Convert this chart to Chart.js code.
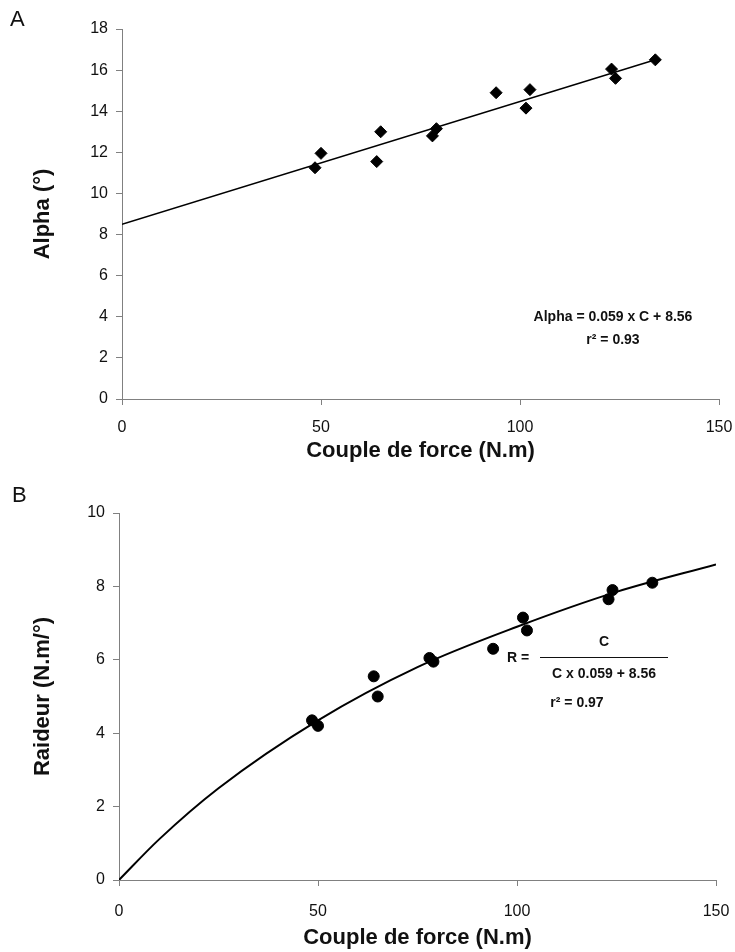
<!DOCTYPE html>
<html>
<head>
<meta charset="utf-8">
<script src="https://cdn.jsdelivr.net/npm/chart.js@4.4.1/dist/chart.umd.min.js"></script>
<style>
    body { margin: 0; background: #fff; width: 735px; height: 952px; position: relative; overflow: hidden; font-family: "Liberation Sans", Arial, sans-serif; color: #111; }
    .panel { position: absolute; left: 0; width: 735px; height: 476px; }
    #panelA { top: 0; }
    #panelB { top: 476px; }
    .letter { position: absolute; font-size: 22px; }
    .eq { position: absolute; font-weight: bold; font-size: 14px; white-space: nowrap; transform: translate(-50%, -50%); }
    .frac-line { position: absolute; height: 1px; background: #111; }
</style>
</head>
<body>
<div class="panel" id="panelA"><canvas id="chartA" width="735" height="476"></canvas></div>
<div class="panel" id="panelB"><canvas id="chartB" width="735" height="476"></canvas></div>

<div class="letter" style="left:10px; top:6px;">A</div>
<div class="letter" style="left:12px; top:482px;">B</div>

<div class="eq" style="left:613px; top:316px;">Alpha = 0.059 x C + 8.56</div>
<div class="eq" style="left:613px; top:339px;">r² = 0.93</div>

<div class="eq" style="left:518px; top:657px;">R =</div>
<div class="eq" style="left:604px; top:641px;">C</div>
<div class="frac-line" style="left:540px; top:657px; width:128px;"></div>
<div class="eq" style="left:604px; top:673px;">C x 0.059 + 8.56</div>
<div class="eq" style="left:577px; top:702px;">r² = 0.97</div>

<script>
// Données
const couple = [48.5, 50, 64, 65, 78, 79, 94, 101.5, 102.5, 123, 124, 134];
const alpha = [11.25, 11.95, 11.55, 13.0, 12.8, 13.15, 14.9, 14.15, 15.05, 16.05, 15.6, 16.5];
const raideur = [4.35, 4.2, 5.55, 5.0, 6.05, 5.95, 6.3, 7.15, 6.8, 7.65, 7.9, 8.1];

// Droite de régression (A) et courbe ajustée (B)
const fitX = [0, 134];
const fitAlpha = [8.5, 16.5];
const curveX = [0, 10, 25, 50, 75, 100, 125, 150];
const curveR = [0, 1.1, 2.5, 4.35, 5.8, 6.9, 7.85, 8.6];

// Axes
const xTicks = [0, 50, 100, 150];
const yTicksA = [0, 2, 4, 6, 8, 10, 12, 14, 16, 18];
const yTicksB = [0, 2, 4, 6, 8, 10];

const AXIS_COLOR = '#808080';
const TEXT_COLOR = '#111';
const FONT = '"Liberation Sans", Arial, sans-serif';

const toPoints = (xs, ys) => xs.map((x, i) => ({ x, y: ys[i] }));

function makeAxis(opts) {
    return {
        type: 'linear',
        min: opts.min,
        max: opts.max,
        afterBuildTicks: (scale) => { scale.ticks = opts.ticks.map(v => ({ value: v })); },
        afterFit: (scale) => {
            if (opts.width) scale.width = opts.width;
            if (opts.height) scale.height = opts.height;
            // la zone du graphique est fixée par layout.padding
            scale.paddingLeft = scale.paddingRight = 0;
            scale.paddingTop = scale.paddingBottom = 0;
        },
        grid: { drawOnChartArea: false, drawTicks: true, tickLength: 6, color: AXIS_COLOR },
        border: { color: AXIS_COLOR, width: 1 },
        ticks: { color: TEXT_COLOR, font: { family: FONT, size: 16 }, padding: opts.tickPadding },
        title: {
            display: true,
            text: opts.title,
            color: TEXT_COLOR,
            font: { family: FONT, size: 22, weight: 'bold' },
            padding: opts.titlePadding
        }
    };
}

function makeChart(id, datasets, xAxis, yAxis, padding) {
    return new Chart(document.getElementById(id), {
        type: 'scatter',
        data: { datasets },
        options: {
            responsive: false,
            animation: false,
            layout: { padding },
            plugins: { legend: { display: false }, tooltip: { enabled: false } },
            scales: { x: xAxis, y: yAxis }
        }
    });
}

// Graphique A
makeChart('chartA', [
    {
        data: toPoints(fitX, fitAlpha),
        showLine: true,
        borderColor: '#000',
        borderWidth: 1.5,
        pointRadius: 0
    },
    {
        data: toPoints(couple, alpha),
        pointStyle: 'rectRot',
        pointRadius: 6,
        backgroundColor: '#000',
        borderColor: '#000'
    }
],
    makeAxis({ min: 0, max: 150, ticks: xTicks, title: 'Couple de force (N.m)', height: 77, tickPadding: 13, titlePadding: { top: 0, bottom: 12 } }),
    makeAxis({ min: 0, max: 18, ticks: yTicksA, title: 'Alpha (°)', width: 122, tickPadding: 8, titlePadding: { top: 30, bottom: 0 } }),
    { top: 29, right: 16, left: 0, bottom: 0 }
);

// Graphique B
makeChart('chartB', [
    {
        data: toPoints(curveX, curveR),
        showLine: true,
        borderColor: '#000',
        borderWidth: 2,
        pointRadius: 0,
        cubicInterpolationMode: 'monotone'
    },
    {
        data: toPoints(couple, raideur),
        pointStyle: 'circle',
        pointRadius: 5.5,
        backgroundColor: '#000',
        borderColor: '#000'
    }
],
    makeAxis({ min: 0, max: 150, ticks: xTicks, title: 'Couple de force (N.m)', height: 72, tickPadding: 16, titlePadding: { top: 0, bottom: 1 } }),
    makeAxis({ min: 0, max: 10, ticks: yTicksB, title: 'Raideur (N.m/°)', width: 119, tickPadding: 8, titlePadding: { top: 30, bottom: 0 } }),
    { top: 37, right: 19, left: 0, bottom: 0 }
);
</script>
</body>
</html>
